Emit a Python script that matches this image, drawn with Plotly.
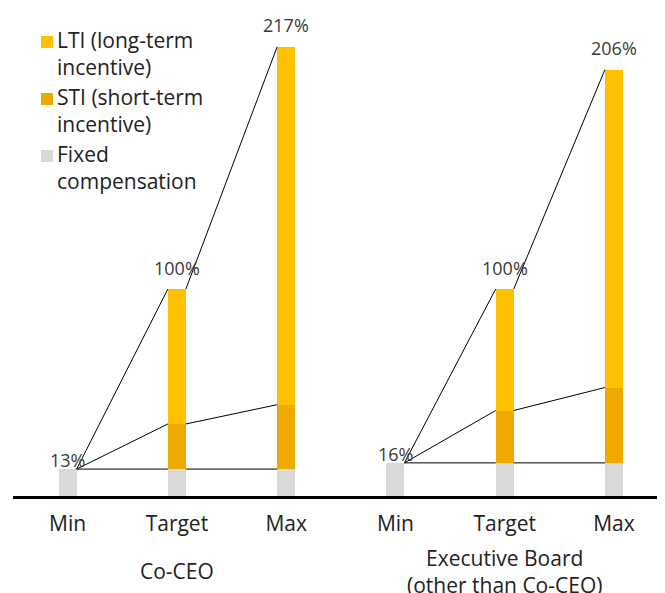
import plotly.graph_objects as go

# ---- data ----
groups = ["Co-CEO", "Executive Board<br>(other than Co-CEO)"]
levels = ["Min", "Target", "Max"]
fixed = [13, 13, 13, 16, 16, 16]
sti = [0, 21.8, 31.1, 0, 25.3, 36.4]
lti = [0, 65.2, 172.9, 0, 58.7, 153.6]
series_names = ["LTI (long-term<br>incentive)", "STI (short-term<br>incentive)", "Fixed<br>compensation"]

# ---- style ----
C_LTI = "#FFC000"
C_STI = "#EEAA00"
C_FIX = "#D9D9D9"
FONT = "Open Sans"
W = 0.165  # bar width
OFF = 8  # page body margin
FIG_W, FIG_H = 665 - OFF, 593 - OFF
L, R, T, B = 13 - OFF, 0, 0, 97
PLOT_W = FIG_W - L - R
PLOT_H = FIG_H - T - B

ticktext = levels * len(groups)
xs = list(range(len(ticktext)))
sti_top = [f + s for f, s in zip(fixed, sti)]
totals = [f + s + l for f, s, l in zip(fixed, sti, lti)]

fig = go.Figure()
fig.add_trace(go.Bar(x=xs, y=fixed, name=series_names[2], marker_color=C_FIX, width=W,
                     marker_line_width=0, showlegend=False))
fig.add_trace(go.Bar(x=xs, y=sti, name=series_names[1], marker_color=C_STI, width=W,
                     marker_line_width=0, showlegend=False))
fig.add_trace(go.Bar(x=xs, y=lti, name=series_names[0], marker_color=C_LTI, width=W,
                     marker_line_width=0, showlegend=False))

# connecting lines
lx, ly = [], []
for g in range(len(groups)):
    i0 = 3 * g
    for tops in (fixed, sti_top, totals):
        lx += [i0 + W / 2, i0 + 1 - W / 2, None, i0 + 1 + W / 2, i0 + 2 - W / 2, None]
        ly += [fixed[i0], tops[i0 + 1], None, tops[i0 + 1], tops[i0 + 2], None]
fig.add_trace(go.Scatter(x=lx, y=ly, mode="lines", line=dict(color="black", width=1),
                         hoverinfo="skip", showlegend=False))

# value labels
shift = {"Min": 9, "Target": 21, "Max": 22}
for i, t in enumerate(totals):
    fig.add_annotation(x=i, y=t, text=f"{round(t)}%", showarrow=False, yanchor="middle",
                       yshift=shift[ticktext[i]], font=dict(family=FONT, size=18, color="#3a3a3a"))

# group labels
for g, name in enumerate(groups):
    fig.add_annotation(x=3 * g + 1, y=0, xref="x", yref="paper", text=name, showarrow=False,
                       yanchor="middle", yshift=-75, font=dict(family=FONT, size=21, color="#222"))

# custom legend (positions given in screen pixels)
def px_x(p):
    return (p - OFF - L) / PLOT_W

def px_y(p):
    return (FIG_H - B - (p - OFF)) / PLOT_H

sw_tops = [36, 93, 150]
for k, (name, col) in enumerate(zip(series_names, [C_LTI, C_STI, C_FIX])):
    top = sw_tops[k]
    fig.add_shape(type="rect", xref="paper", yref="paper", x0=px_x(41), x1=px_x(53),
                  y0=px_y(top + 12), y1=px_y(top), fillcolor=col, line_width=0)
    fig.add_annotation(xref="paper", yref="paper", x=px_x(55), y=px_y(top - 12), text=name,
                       showarrow=False, xanchor="left", yanchor="top", align="left",
                       font=dict(family=FONT, size=21, color="#222"))

fig.update_layout(
    width=FIG_W, height=FIG_H, barmode="stack",
    margin=dict(l=L, r=R, t=T, b=B),
    plot_bgcolor="white", paper_bgcolor="white",
    font=dict(family=FONT, color="#222"),
    xaxis=dict(tickmode="array", tickvals=xs, ticktext=ticktext, range=[-0.5, 5.467],
               showline=True, linecolor="black", linewidth=2.5, showgrid=False, zeroline=False,
               ticks="outside", ticklen=7, tickcolor="rgba(0,0,0,0)",
               tickfont=dict(family=FONT, size=21, color="#222")),
    yaxis=dict(range=[0, PLOT_H / 2.07], visible=False, showgrid=False, zeroline=False),
)

fig.write_html("out.html")
